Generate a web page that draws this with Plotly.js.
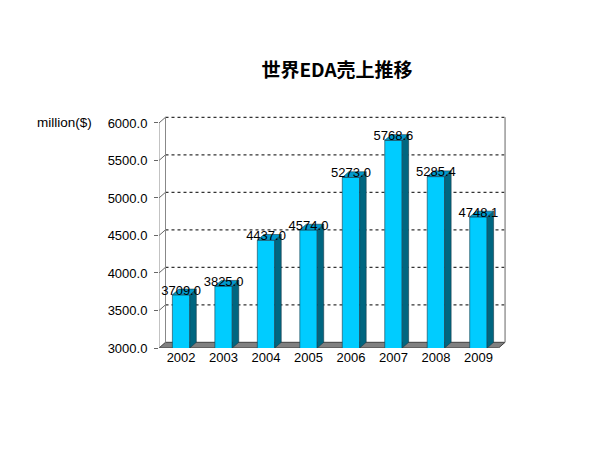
<!DOCTYPE html>
<html>
<head>
<meta charset="utf-8">
<script src="https://cdn.plot.ly/plotly-3.0.1.min.js"></script>
<style>html,body{margin:0;padding:0;background:#fff;}#chart{width:600px;height:450px;}</style>
</head>
<body>
<div id="chart"></div>
<script>
// ---- data ----
const years = ['2002','2003','2004','2005','2006','2007','2008','2009'];
const sales = [3709.0, 3825.0, 4437.0, 4574.0, 5273.0, 5768.6, 5285.4, 4748.1];
const yTicks = [3000, 3500, 4000, 4500, 5000, 5500, 6000];
const chartTitle = '世界EDA売上推移';
const unitLabel = 'million($)';

// ---- 3D geometry (styling) ----
const base = 3000;
const dx = 0.153;   // depth offset in x units
const dy = 76;      // depth offset in y units
const bw = 0.41;    // bar front width
const xMin = -0.52, xMax = 7.65, yMax = 6093;
const xFrontRight = 7.475;

const idx = years.map((_, i) => i);

// side faces and top faces from data
const sideX = [], sideY = [], topX = [], topY = [];
idx.forEach(i => {
  const v = sales[i];
  const r = i + bw / 2, l = i - bw / 2;
  sideX.push(r, r, r + dx, r + dx, r, null);
  sideY.push(base, v, v + dy, base + dy, base, null);
  topX.push(l, r, r + dx, l + dx, l, null);
  topY.push(v, v, v + dy, v + dy, v, null);
});

const traces = [
  {type: 'bar', x: idx, y: sales, width: bw, base: 0,
   marker: {color: '#00ccff', line: {color: '#1a3a48', width: 0.6}},
   hoverinfo: 'skip', showlegend: false},
  {type: 'scatter', mode: 'lines', x: sideX, y: sideY, fill: 'toself',
   fillcolor: '#006680', line: {color: '#1a3a48', width: 0.6},
   hoverinfo: 'skip', showlegend: false},
  {type: 'scatter', mode: 'lines', x: topX, y: topY, fill: 'toself',
   fillcolor: '#0099cc', line: {color: '#1a3a48', width: 0.6},
   hoverinfo: 'skip', showlegend: false},
  {type: 'scatter', mode: 'text', x: idx, y: sales.map(v => v + 47),
   text: sales.map(v => v.toFixed(1)), textposition: 'middle center',
   textfont: {family: 'Liberation Sans, Arial, sans-serif', size: 13, color: '#000'},
   hoverinfo: 'skip', showlegend: false, cliponaxis: false}
];

const shapes = [];
// floor
shapes.push({type: 'path', layer: 'below', xref: 'x', yref: 'y',
  path: `M ${xMin} ${base} L ${xFrontRight} ${base} L ${xFrontRight + dx} ${base + dy} L ${xMin + dx} ${base + dy} Z`,
  fillcolor: '#808080', line: {color: '#404040', width: 1}});
// back wall gridlines
yTicks.forEach(t => {
  if (t === base) return;
  shapes.push({type: 'line', layer: 'below', xref: 'x', yref: 'y',
    x0: xMin + dx, x1: xFrontRight + dx, y0: t + dy, y1: t + dy,
    line: {color: '#333', width: 1.2, dash: 'dot'}});
  shapes.push({type: 'line', layer: 'below', xref: 'x', yref: 'y',
    x0: xMin, x1: xMin + dx, y0: t, y1: t + dy,
    line: {color: '#666', width: 1}});
});
// left wall lines
shapes.push({type: 'line', layer: 'below', xref: 'x', yref: 'y',
  x0: xMin + dx, x1: xMin + dx, y0: base + dy, y1: 6000 + dy,
  line: {color: '#888', width: 1}});
shapes.push({type: 'line', layer: 'below', xref: 'x', yref: 'y',
  x0: xMin, x1: xMin, y0: base, y1: 6000, line: {color: '#888', width: 1}});
// right wall edge
shapes.push({type: 'line', layer: 'below', xref: 'x', yref: 'y',
  x0: xFrontRight + dx, x1: xFrontRight + dx, y0: base + dy, y1: 6000 + dy,
  line: {color: '#999', width: 1.5}});

const layout = {
  width: 600, height: 450,
  margin: {l: 159, r: 94, t: 116, b: 102},
  paper_bgcolor: '#fff', plot_bgcolor: 'rgba(0,0,0,0)',
  font: {family: 'Liberation Sans, Arial, sans-serif', size: 13, color: '#000'},
  title: {text: '<b>' + chartTitle + '</b>', xref: 'container', yref: 'container',
    x: 0.5617, y: 0.844, xanchor: 'center', yanchor: 'middle',
    font: {family: 'Noto Sans CJK JP, sans-serif', size: 19, color: '#000'}},
  xaxis: {range: [xMin, xMax], tickmode: 'array', tickvals: idx, ticktext: years,
    showgrid: false, zeroline: false, showline: false, ticks: '',
    tickfont: {size: 13}, fixedrange: true},
  yaxis: {range: [base, yMax], tickmode: 'array', tickvals: yTicks,
    ticktext: yTicks.map(t => t.toFixed(1)),
    showgrid: false, zeroline: false, showline: false,
    ticks: 'outside', ticklen: 4, tickcolor: '#666', ticklabelstandoff: 4,
    tickfont: {size: 13}, fixedrange: true},
  shapes: shapes,
  annotations: [{text: unitLabel, xref: 'paper', yref: 'y', x: -0.271, y: 6000,
    xanchor: 'center', yanchor: 'middle', showarrow: false,
    font: {size: 13.5}}],
  bargap: 0
};

Plotly.newPlot('chart', traces, layout, {displayModeBar: false, staticPlot: true});
</script>
</body>
</html>
